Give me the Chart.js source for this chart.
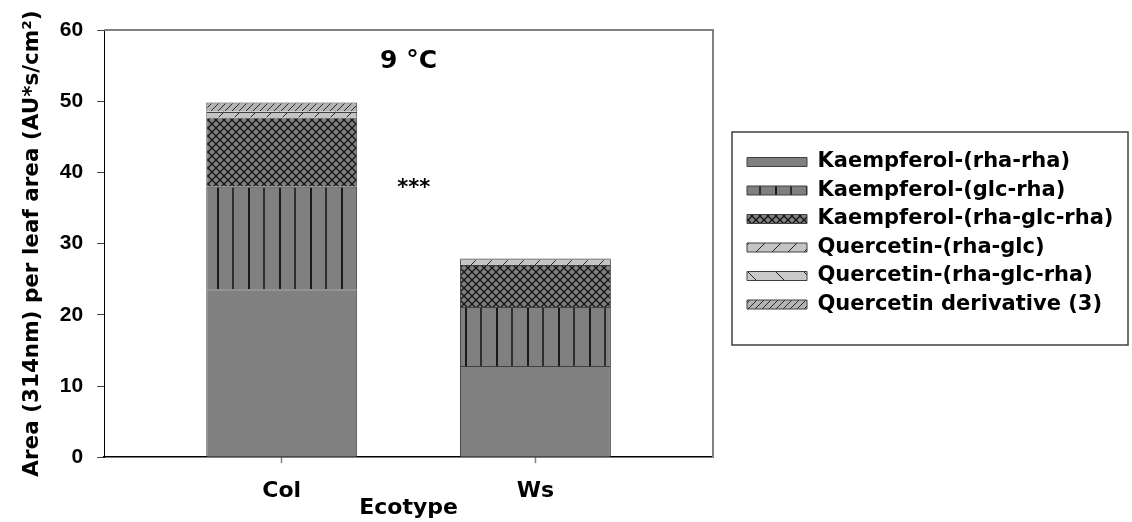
<!DOCTYPE html>
<html><head><meta charset="utf-8">
<script src="https://cdn.jsdelivr.net/npm/chart.js@4"></script>
<style>html,body{margin:0;padding:0;background:#fff;overflow:hidden;} #wrap{width:1132px;height:522px;}</style>
</head><body><div id="wrap"><canvas id="c" width="1132" height="522"></canvas></div>
<script>
// ---- data ----
const categories = ['Col', 'Ws'];
const seriesNames = ['Kaempferol-(rha-rha)', 'Kaempferol-(glc-rha)', 'Kaempferol-(rha-glc-rha)',
  'Quercetin-(rha-glc)', 'Quercetin-(rha-glc-rha)', 'Quercetin derivative (3)'];
const kaempRhaRha    = [23.6, 12.8];
const kaempGlcRha    = [14.4, 8.3];
const kaempRhaGlcRha = [9.7, 5.9];
const quercRhaGlc    = [0.8, 0.8];
const quercRhaGlcRha = [0.1, 0.1];
const quercDeriv     = [1.2, 0.0];
const yTicks = [0, 10, 20, 30, 40, 50, 60];
const panelTitle = '9 °C';
const signif = '***';
const yTitle = 'Area (314nm) per leaf area (AU*s/cm²)';
const xTitle = 'Ecotype';

// ---- patterns ----
const mainCtx = document.getElementById('c').getContext('2d');
function makePattern(w, h, bg, draw) {
  const c = document.createElement('canvas'); c.width = w; c.height = h;
  const g = c.getContext('2d'); g.fillStyle = bg; g.fillRect(0, 0, w, h);
  draw(g, w, h);
  return mainCtx.createPattern(c, 'repeat');
}
const solidGray = '#808080';
const vStripes = makePattern(31, 4, '#808080', (g, w, h) => {
  g.fillStyle = '#1a1a1a'; g.fillRect(0, 0, 2, h);
  g.fillStyle = '#2e2e2e'; g.fillRect(15, 0, 2, h);
});
const crossHatch = makePattern(8, 8, '#808080', (g) => {
  g.strokeStyle = '#141414'; g.lineWidth = 1.3;
  g.beginPath(); g.moveTo(-1, -1); g.lineTo(9, 9); g.moveTo(9, -1); g.lineTo(-1, 9); g.stroke();
});
function slash(w, bg, col, lw) {
  return makePattern(w, w, bg, (g) => {
    g.strokeStyle = col; g.lineWidth = lw;
    g.beginPath();
    g.moveTo(-1, w + 1); g.lineTo(w + 1, -1);
    g.moveTo(-1, 1); g.lineTo(1, -1);
    g.moveTo(w - 1, w + 1); g.lineTo(w + 1, w - 1);
    g.stroke();
  });
}
const sparseSlash = slash(16, '#c4c4c4', '#222', 1);
const backSlash = makePattern(28, 28, '#cacaca', (g) => {
  g.strokeStyle = '#222'; g.lineWidth = 1;
  g.beginPath(); g.moveTo(-1, -1); g.lineTo(29, 29); g.stroke();
});
const denseSlash = slash(7, '#b4b4b4', '#2a2a2a', 1);

const seriesValues = [kaempRhaRha, kaempGlcRha, kaempRhaGlcRha, quercRhaGlc, quercRhaGlcRha, quercDeriv];
const fills = [solidGray, vStripes, crossHatch, sparseSlash, backSlash, denseSlash];

const datasets = seriesNames.map((name, s) => ({
  label: name,
  data: categories.map((_, i) => ({x: i, y: seriesValues[s][i]})),
  backgroundColor: fills[s],
  borderColor: '#404040',
  borderWidth: 1,
  barPercentage: 0.595,
  categoryPercentage: 1.0
}));

const LEGEND_W = 392.5;
const LEGEND_TITLE_H = 114;
const LEGEND_PAD = 7.5;

const decor = {
  id: 'decor',
  beforeLayout(chart) {
    const lg = chart.legend;
    if (lg && !lg._fixedW) {
      const orig = lg.fit;
      lg.fit = function () { orig.call(this); this.width = LEGEND_W; };
      lg._fixedW = true;
    }
  },
  afterDraw(chart) {
    const {ctx, chartArea: a, scales: {x, y}} = chart;
    ctx.save();
    ctx.strokeStyle = '#808080'; ctx.lineWidth = 2;
    ctx.beginPath(); ctx.moveTo(a.left, a.top); ctx.lineTo(a.right, a.top); ctx.lineTo(a.right, a.bottom); ctx.stroke();
    const lg = chart.legend;
    const firstY = lg.top + LEGEND_TITLE_H + LEGEND_PAD;
    const bl = lg.left - 7.5;
    ctx.strokeStyle = '#404040'; ctx.lineWidth = 1.5;
    ctx.strokeRect(bl, firstY - 19.5, (lg.right - 4) - bl, 213);
    ctx.fillStyle = '#000'; ctx.textAlign = 'center'; ctx.textBaseline = 'alphabetic';
    ctx.font = 'bold 25px "DejaVu Sans"';
    ctx.fillText(panelTitle, x.getPixelForValue(0.5), y.getPixelForValue(54.6));
    ctx.font = 'bold 21px "DejaVu Sans"';
    ctx.fillText(signif, x.getPixelForValue(0.52), y.getPixelForValue(36.9));
    ctx.restore();
  }
};

new Chart(mainCtx, {
  type: 'bar',
  data: {datasets},
  plugins: [decor],
  options: {
    responsive: false,
    animation: false,
    devicePixelRatio: 1,
    layout: {padding: {top: 30, left: 0, right: 0, bottom: 0}},
    plugins: {
      tooltip: {enabled: false},
      legend: {
        position: 'right',
        align: 'start',
        fullSize: false,
        title: {display: true, text: '', font: {size: 10, lineHeight: 1}, padding: {top: LEGEND_TITLE_H - 10, bottom: 0}},
        labels: {
          boxWidth: 60, boxHeight: 9, padding: LEGEND_PAD, color: '#000',
          font: {family: 'DejaVu Sans', weight: 'bold', size: 21}
        }
      }
    },
    scales: {
      x: {
        type: 'linear', min: -0.7, max: 1.7, stacked: true, offset: false,
        afterBuildTicks: (s) => { s.ticks = categories.map((_, i) => ({value: i})); },
        ticks: {
          callback: (v) => categories[Math.round(v)] ?? '',
          font: {family: 'DejaVu Sans', weight: 'bold', size: 22, lineHeight: 1.2},
          color: '#000', padding: 14.8, maxRotation: 0, autoSkip: false
        },
        grid: {display: true, offset: false, drawOnChartArea: false, drawTicks: true, tickLength: 6, tickColor: '#808080', tickWidth: 1.5},
        border: {display: true, color: '#000', width: 1.5},
        title: {display: true, text: xTitle, color: '#000',
          font: {family: 'DejaVu Sans', weight: 'bold', size: 22, lineHeight: 1.2},
          padding: {top: -24.4, bottom: 0.8}}
      },
      y: {
        type: 'linear', min: 0, max: 60, stacked: true,
        afterBuildTicks: (s) => { s.ticks = yTicks.map(v => ({value: v})); },
        ticks: {
          font: {family: 'Liberation Sans', weight: 'bold', size: 21, lineHeight: 1.2},
          color: '#000', padding: 14
        },
        grid: {display: true, drawOnChartArea: false, drawTicks: true, tickLength: 7, tickColor: '#404040', tickWidth: 1},
        border: {display: true, color: '#000', width: 1},
        title: {display: true, text: yTitle, color: '#000',
          font: {family: 'DejaVu Sans', weight: 'bold', size: 21.5, lineHeight: 1.2},
          padding: {top: 20, bottom: 0}}
      },
      y2: {
        type: 'linear', position: 'right', display: true,
        grid: {display: false}, ticks: {display: false}, border: {display: false},
        afterFit: (s) => { s.width = 26.5; }
      }
    }
  }
});
</script>
</body></html>
